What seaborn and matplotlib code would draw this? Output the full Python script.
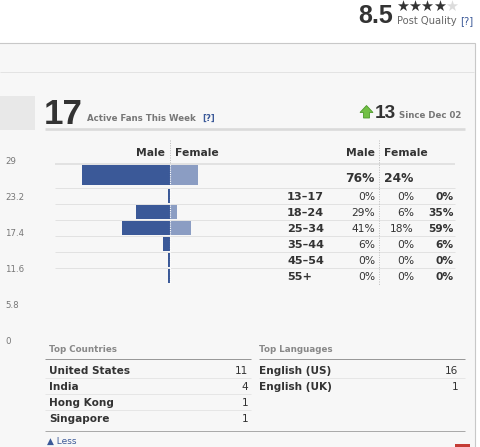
import numpy as np
import pandas as pd
import matplotlib
matplotlib.use("Agg")
import matplotlib.pyplot as plt
from matplotlib.patches import Rectangle, Polygon
import seaborn as sns

# values
age_groups = ["13–17", "18–24", "25–34", "35–44", "45–54", "55+"]
male_pct = [0, 29, 41, 6, 0, 0]
female_pct = [0, 6, 18, 0, 0, 0]
total_pct = [0, 35, 59, 6, 0, 0]
male_total = 76
female_total = 24

active_fans = 17
fans_change = 13
since_label = "Since Dec 02"
post_quality = 8.5
stars_filled = 4

side_ticks = [0, 5.8, 11.6, 17.4, 23.2, 29]

countries = ["United States", "India", "Hong Kong", "Singapore"]
country_counts = [11, 4, 1, 1]
languages = ["English (US)", "English (UK)"]
language_counts = [16, 1]

# colours
MALE = "#3b5998"
FEMALE = "#8b9dc3"
PANEL = "#f7f7f7"
DARK = "#333333"
LINK = "#3b5998"

sns.set_style("white")
plt.rcParams["font.family"] = ["DejaVu Sans"]

W, H = 480, 447
fig = plt.figure(figsize=(W / 100, H / 100), dpi=100)
fig.patch.set_facecolor("white")

# background axes in pixel coordinates (origin top-left)
bg = fig.add_axes([0, 0, 1, 1])
bg.set_xlim(0, W)
bg.set_ylim(H, 0)
bg.axis("off")


def px_axes(x0, y0, x1, y1):
    return fig.add_axes([x0 / W, 1 - y1 / H, (x1 - x0) / W, (y1 - y0) / H])


def pt(px):
    return px * 0.72


def hline(y, x0, x1, color, lw=1.0, **kw):
    bg.plot([x0, x1], [y, y], color=color, lw=lw * 0.72, solid_capstyle="butt", **kw)


# panel
bg.add_patch(Rectangle((-2, 43), 477, 420, facecolor=PANEL, edgecolor="#c8c8c8", lw=0.8))
hline(72, 0, 474, "#e3e3e3")
bg.add_patch(Rectangle((-2, 96), 37, 34, facecolor="#e8e8e8", edgecolor="none"))

# post quality block
bg.text(393, 23, f"{post_quality:g}", family="Liberation Sans", weight="bold",
        fontsize=pt(25), color=DARK, ha="right", va="baseline")
for i in range(5):
    bg.text(396 + i * 12.2, -1.5, "★", fontsize=pt(14.5),
            color=DARK if i < stars_filled else "#dcdcdc", ha="left", va="top")
bg.text(457, 24, "Post Quality", fontsize=pt(10), color="#666666", ha="right", va="baseline")
bg.text(473, 24, "[?]", fontsize=pt(10), color=LINK, ha="right", va="baseline")

# active fans header
bg.text(44, 124, str(active_fans), family="Liberation Sans", weight="bold",
        fontsize=pt(35), color=DARK, ha="left", va="baseline")
bg.text(87, 121, "Active Fans This Week", fontsize=pt(8.7), weight="bold",
        color="#777777", ha="left", va="baseline")
bg.text(202, 121, "[?]", fontsize=pt(8.7), weight="bold", color=LINK, ha="left", va="baseline")
bg.add_patch(Polygon([(360, 112.5), (366.5, 105.5), (373, 112.5), (369.5, 112.5),
                      (369.5, 118), (363.5, 118), (363.5, 112.5)],
                     closed=True, facecolor="#72c045", edgecolor="#4e9a2c", lw=0.6))
bg.text(375, 118, str(fans_change), family="Liberation Sans", weight="bold",
        fontsize=pt(19), color=DARK, ha="left", va="baseline")
bg.text(399, 118, since_label, fontsize=pt(8.7), weight="bold", color="#777777",
        ha="left", va="baseline")
hline(129, 45, 465, "#dadada", lw=2.6)

# left axis labels of the chart behind
ax_side = px_axes(0, 161, 4, 341)
ax_side.set_ylim(0, 29)
ax_side.set_yticks(side_ticks)
ax_side.set_yticklabels([f"{v:g}" for v in side_ticks])
ax_side.yaxis.tick_right()
ax_side.tick_params(axis="y", length=0, pad=0.7, labelsize=pt(8.7), labelcolor="#777777")
ax_side.set_xticks([])
ax_side.patch.set_alpha(0)
for s in ax_side.spines.values():
    s.set_visible(False)

# table grid lines
hline(164, 55, 455, "#dcdcdc", lw=1.5)
for k in range(6):
    hline(188 + 16 * k, 55, 455, "#e2e2e2")
bg.plot([170, 170], [140, 164], color="#bbbbbb", lw=0.7, ls=(0, (1, 1.5)))
bg.plot([379, 379], [140, 285], color="#bbbbbb", lw=0.7, ls=(0, (1, 1.5)))

# column headers
for x in (165, 375):
    bg.text(x, 156.5, "Male", fontsize=pt(10.8), weight="bold", color=DARK, ha="right", va="baseline")
for x in (175, 384):
    bg.text(x, 156.5, "Female", fontsize=pt(10.8), weight="bold", color=DARK, ha="left", va="baseline")

# pyramid bars
px_per_pct = 1.16
xlim = ((60 - 170) / px_per_pct, (240 - 170) / px_per_pct)
palette = {"Male": MALE, "Female": FEMALE}

tot = pd.DataFrame({"row": ["All", "All"], "sex": ["Male", "Female"],
                    "pct": [-male_total, female_total]})
ax_tot = px_axes(60, 164, 240, 188)
sns.barplot(data=tot, y="row", x="pct", hue="sex", palette=palette, dodge=False,
            orient="h", width=0.83, saturation=1, linewidth=0, legend=False, ax=ax_tot)
ax_tot.set_ylim(0.5 + 1 / 24, -0.5 + 1 / 24)

ages = pd.DataFrame({
    "age": age_groups * 2,
    "sex": ["Male"] * len(age_groups) + ["Female"] * len(age_groups),
    # a male bar is never drawn narrower than ~2 px, as on the page
    "pct": [-max(v, 1.8) for v in male_pct] + female_pct,
})
ax_age = px_axes(60, 188, 240, 284)
sns.barplot(data=ages, y="age", x="pct", hue="sex", palette=palette, dodge=False,
            orient="h", width=0.93, saturation=1, linewidth=0, legend=False, ax=ax_age)
ax_age.set_ylim(len(age_groups) - 0.5, -0.5)

for ax in (ax_tot, ax_age):
    ax.set_xlim(*xlim)
    ax.axvline(0, color="white", lw=0.8, ls=(0, (1, 1)), zorder=5)
    ax.patch.set_alpha(0)
    ax.axis("off")

# percentages table
bg.text(375, 181.5, f"{male_total}%", fontsize=pt(12.2), weight="bold", color=DARK,
        ha="right", va="baseline")
bg.text(384, 181.5, f"{female_total}%", fontsize=pt(12.2), weight="bold", color=DARK,
        ha="left", va="baseline")
for k, age in enumerate(age_groups):
    y = 200.5 + 16 * k
    bg.text(287, y, age, fontsize=pt(11.2), weight="bold", color=DARK, ha="left", va="baseline")
    bg.text(375, y, f"{male_pct[k]}%", fontsize=pt(10.6), color=DARK, ha="right", va="baseline")
    bg.text(414, y, f"{female_pct[k]}%", fontsize=pt(10.6), color=DARK, ha="right", va="baseline")
    bg.text(454, y, f"{total_pct[k]}%", fontsize=pt(10.6), weight="bold", color=DARK,
            ha="right", va="baseline")

# top countries / languages
bg.text(49, 351.5, "Top Countries", fontsize=pt(8.8), weight="bold", color="#888888",
        ha="left", va="baseline")
bg.text(259, 351.5, "Top Languages", fontsize=pt(8.8), weight="bold", color="#888888",
        ha="left", va="baseline")
hline(359, 45, 251, "#999999")
hline(359, 259, 465, "#999999")
for k in range(3):
    hline(377.5 + 16 * k, 45, 251, "#e6e6e6")
hline(377.5, 259, 465, "#e6e6e6")
for k, (name, n) in enumerate(zip(countries, country_counts)):
    y = 373.5 + 16 * k
    bg.text(49, y, name, fontsize=pt(10.5), weight="bold", color=DARK, ha="left", va="baseline")
    bg.text(248, y, str(n), fontsize=pt(10.5), color=DARK, ha="right", va="baseline")
for k, (name, n) in enumerate(zip(languages, language_counts)):
    y = 373.5 + 16 * k
    bg.text(259, y, name, fontsize=pt(10.5), weight="bold", color=DARK, ha="left", va="baseline")
    bg.text(458, y, str(n), fontsize=pt(10.5), color=DARK, ha="right", va="baseline")
hline(431, 45, 465, "#aaaaaa")

bg.text(47, 444, "▲ Less", fontsize=pt(9), color=LINK, ha="left", va="baseline")
bg.add_patch(Rectangle((455, 444), 15, 5, facecolor="#c43c35", edgecolor="none"))

fig.savefig("out.png", dpi=100, facecolor="white")
